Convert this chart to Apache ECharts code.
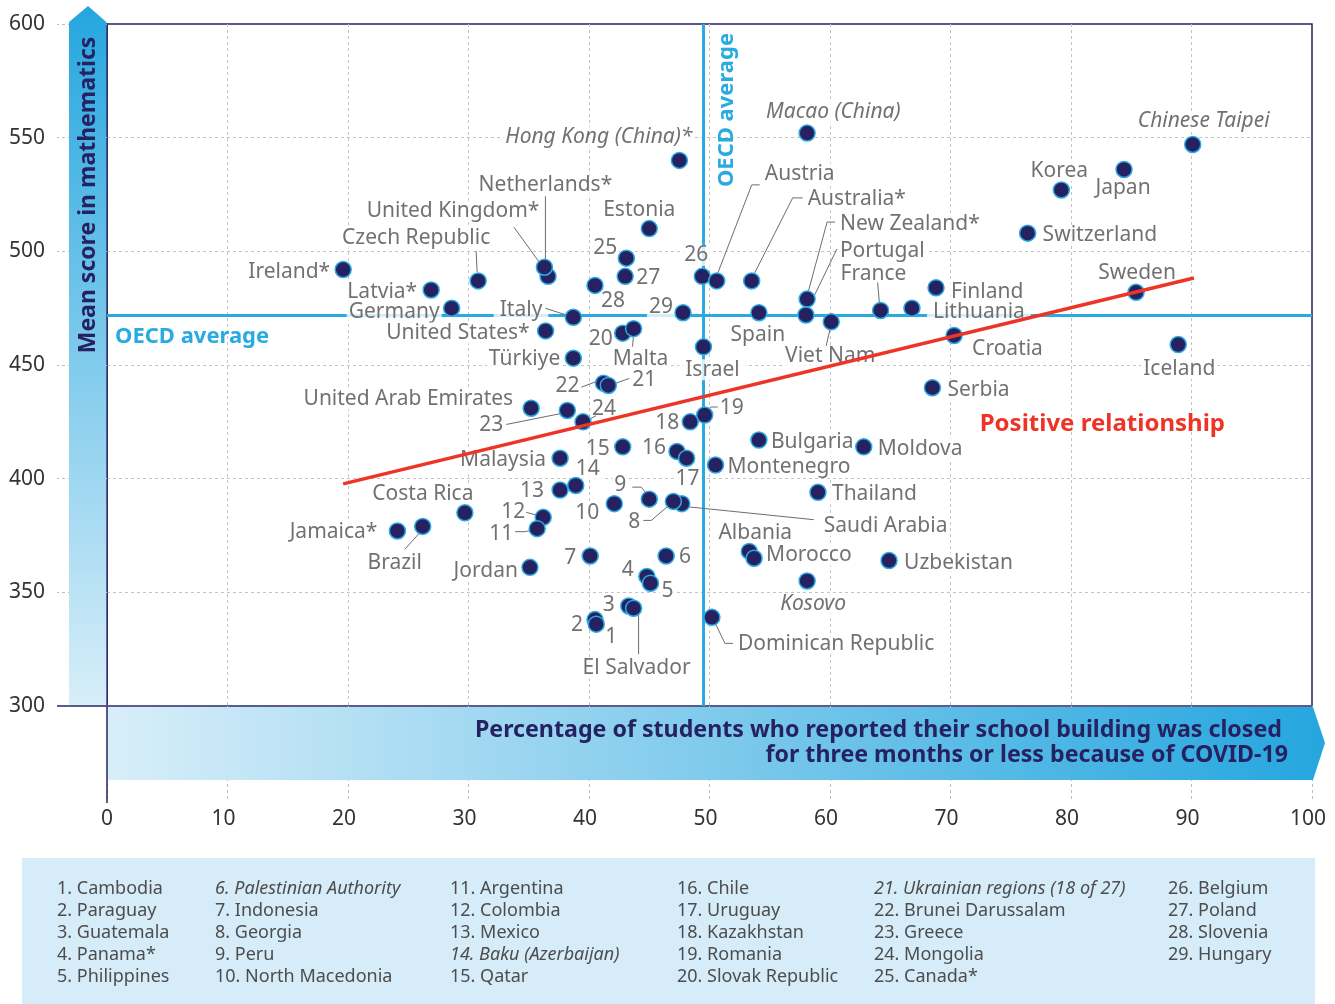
<!DOCTYPE html>
<html>
<head>
<meta charset="utf-8">
<script src="https://cdn.jsdelivr.net/npm/echarts/dist/echarts.min.js"></script>
<style>html,body{margin:0;padding:0;background:#fff}#c{width:1335px;height:1004px}</style>
</head>
<body>
<div id="c"></div>
<script>
// ---------------- DATA ----------------
const countries = ["Ireland*","Latvia*","Germany","Czech Republic","United Kingdom*","Netherlands*","Italy","United States*","Türkiye","Slovak Republic","Malta","Canada*","Poland","Estonia","Slovenia","Hungary","Hong Kong (China)*","Belgium","Austria","Australia*","Spain","New Zealand*","Portugal","Viet Nam","France","Macao (China)","Lithuania","Finland","Croatia","Switzerland","Korea","Japan","Chinese Taipei","Sweden","Iceland","Israel","Serbia","Moldova","Bulgaria","Montenegro","Thailand","Albania","Morocco","Kosovo","Uzbekistan","Dominican Republic","Saudi Arabia","Georgia","Peru","North Macedonia","Mexico","Baku (Azerbaijan)","Costa Rica","Colombia","Argentina","Jamaica*","Brazil","Jordan","Indonesia","Palestinian Authority","Panama*","Philippines","Guatemala","El Salvador","Paraguay","Cambodia","Qatar","Chile","Uruguay","Kazakhstan","Romania","Malaysia","United Arab Emirates","Greece","Mongolia","Brunei Darussalam","Ukrainian regions (18 of 27)"];
const closedPct = [19.6,26.9,28.6,30.8,36.6,36.3,38.7,36.4,38.7,42.8,43.7,43.1,43.0,45.0,40.5,47.8,47.5,49.4,50.6,53.5,54.1,58.1,58.0,60.1,64.2,58.1,66.8,68.8,70.3,76.4,79.2,84.4,90.1,85.4,88.9,49.5,68.5,62.8,54.1,50.5,59.0,53.3,53.7,58.1,64.9,50.2,47.7,47.0,45.0,42.1,37.6,38.9,29.7,36.2,35.7,24.1,26.2,35.1,40.1,46.4,44.8,45.1,43.3,43.7,40.5,40.6,42.8,47.3,48.1,48.4,49.6,37.6,35.2,38.2,39.5,41.2,41.6];
const mathScore = [492,483,475,487,489,493,471,465,453,464,466,497,489,510,485,473,540,489,487,487,473,479,472,469,474,552,475,484,463,508,527,536,547,482,459,458,440,414,417,406,394,368,365,355,364,339,389,390,391,389,395,397,385,383,378,377,379,361,366,366,357,354,344,343,338,336,414,412,409,425,428,409,431,430,425,442,441];
const footnotes = ["Cambodia","Paraguay","Guatemala","Panama*","Philippines","Palestinian Authority","Indonesia","Georgia","Peru","North Macedonia","Argentina","Colombia","Mexico","Baku (Azerbaijan)","Qatar","Chile","Uruguay","Kazakhstan","Romania","Slovak Republic","Ukrainian regions (18 of 27)","Brunei Darussalam","Greece","Mongolia","Canada*","Belgium","Poland","Slovenia","Hungary"];
const italicNames = ["Hong Kong (China)*","Macao (China)","Chinese Taipei","Kosovo","Palestinian Authority","Baku (Azerbaijan)","Ukrainian regions (18 of 27)"];
const oecdX = 49.5;
const oecdY = 472;
const trendX = [19.6, 90.2];
const trendY = [397.7, 488.3];
const xMin = 0, xMax = 100, xStep = 10;
const yMin = 300, yMax = 600, yStep = 50;
const xTitle = ["Percentage of students who reported their school building was closed", "for three months or less because of COVID-19"];
const yTitle = "Mean score in mathematics";
const oecdLabel = "OECD average";
const trendLabel = "Positive relationship";

// ---------------- LABEL LAYOUT (pixel offsets from the dot) ----------------
const placement = {
'Ireland*':['right',-13,0],'Latvia*':['right',-14,0],'Germany':['right',-12,2],
'Czech Republic':['center',-62,-45],'United Kingdom*':['center',-95,-67],'Netherlands*':['center',1,-84],
'Italy':['right',-31,-9],'United States*':['right',-16,0],'Türkiye':['right',-13,-1],
'Slovak Republic':['right',-10,4],'Malta':['center',7,28],'Canada*':['right',-9,-12],
'Poland':['left',11,0],'Estonia':['center',-10,-21],'Slovenia':['left',6,14],'Hungary':['right',-10,-8],
'Hong Kong (China)*':['right',13,-25],'Belgium':['center',-6,-23],'Austria':['left',48,-109],
'Australia*':['left',56,-84],'Spain':['center',-1,20],'New Zealand*':['left',33,-77],
'Portugal':['left',34,-66],'Viet Nam':['center',-1,32],'France':['left',-40,-38],
'Macao (China)':['left',-41,-23],'Lithuania':['left',21,2],'Finland':['left',15,2],
'Croatia':['left',18,12],'Switzerland':['left',15,0],'Korea':['center',-2,-21],
'Japan':['center',-1,17],'Chinese Taipei':['center',11,-25],'Sweden':['center',1,-21],
'Iceland':['center',1,22],'Israel':['center',9,21],'Serbia':['left',15,0],'Moldova':['left',14,0],
'Bulgaria':['left',12,0],'Montenegro':['left',12,0],'Thailand':['left',14,0],'Albania':['center',6,-20],
'Morocco':['left',12,-5],'Kosovo':['center',6,21],'Uzbekistan':['left',15,1],
'Dominican Republic':['left',26,25],'Saudi Arabia':['left',142,20],'Georgia':['right',-33,19],
'Peru':['right',-23,-16],'North Macedonia':['right',-15,7],'Mexico':['right',-16,-1],
'Baku (Azerbaijan)':['center',12,-18],'Costa Rica':['center',-42,-21],'Colombia':['right',-18,-7],
'Argentina':['right',-24,3],'Jamaica*':['right',-20,-1],'Brazil':['center',-28,35],
'Jordan':['right',-12,2],'Indonesia':['right',-14,0],'Palestinian Authority':['left',13,-1],
'Panama*':['right',-13,-8],'Philippines':['left',11,6],'Guatemala':['right',-14,-3],
'El Salvador':['center',3,58],'Paraguay':['right',-12,3],'Cambodia':['center',15,11],
'Qatar':['right',-13,0],'Chile':['right',-11,-5],'Uruguay':['center',1,19],'Kazakhstan':['right',-11,-1],
'Romania':['left',15,-9],'Malaysia':['right',-14,0],'United Arab Emirates':['right',-18,-11],
'Greece':['right',-64,13],'Mongolia':['left',9,-15],'Brunei Darussalam':['right',-24,1],
'Ukrainian regions (18 of 27)':['left',24,-7]
};
const LABEL_DY = 2;
const widePad = ['Italy','Lithuania','Israel'];
const leaders = {
'Czech Republic':[[-2,-30],[-1,-9]],
'United Kingdom*':[[-34,-49],[0,-2]],
'Netherlands*':[[1,-71],[1,-2]],
'Italy':[[-28,-9],[0,0]],
'Malta':[[-1,18],[0,5]],
'Austria':[[43,-96],[35,-96],[0,-5]],
'Australia*':[[51,-83],[41,-83],[1,-4]],
'New Zealand*':[[28,-77],[20,-77],[0,-3]],
'Portugal':[[31,-66],[0,-2]],
'France':[[-3,-28],[-1,-5]],
'Viet Nam':[[-5,24],[0,2]],
'Brunei Darussalam':[[-22,4],[-1,-4]],
'Ukrainian regions (18 of 27)':[[21,-7],[1,0]],
'Greece':[[-61,14],[-1,2]],
'Mongolia':[[13,-6],[1,0]],
'Romania':[[13,-8],[6,-8],[0,-2]],
'Peru':[[-17,-12],[-8,-12],[0,-2]],
'Georgia':[[-30,19],[-22,19],[-1,1]],
'Saudi Arabia':[[132,16],[5,3]],
'Dominican Republic':[[1,1],[13,26],[21,26]],
'El Salvador':[[5,3],[5,46]],
'Colombia':[[-17,-5],[-2,-1]],
'Argentina':[[-22,3],[-12,3],[0,0]],
'Brazil':[[-18,23],[0,3]]
};

// ---------------- STYLE ----------------
const FONT = '"Noto Sans", "Open Sans", sans-serif';
const NAVY = '#262262';
const CYAN = '#29abe2';
const LABEL_COLOR = '#4d4d4d';
const GRID = {left:107, top:24, width:1205, height:682};

const chart = echarts.init(document.getElementById('c'));

const labelData = countries.map((name, i) => {
  const p = placement[name] || ['left', 12, 0];
  const pad = widePad.includes(name) ? 6 : 2;
  const dx = p[1] + (p[0] === 'left' ? -pad : (p[0] === 'right' ? pad : 0));
  const num = footnotes.indexOf(name);
  const text = num >= 0 ? String(num + 1) : name;
  const italic = num < 0 && italicNames.includes(name);
  return {
    value: [closedPct[i], mathScore[i]],
    label: {
      formatter: text, align: p[0], verticalAlign: 'middle', offset: [dx, p[2] + LABEL_DY],
      padding: [0, pad], fontStyle: italic ? 'italic' : 'normal'
    }
  };
});
const dotData = countries.map((name, i) => [closedPct[i], mathScore[i]]);
const leaderNames = Object.keys(leaders);
const leaderData = leaderNames.map(n => { const i = countries.indexOf(n); return [closedPct[i], mathScore[i]]; });

chart.setOption({
  animation: false,
  backgroundColor: '#fff',
  textStyle: {fontFamily: FONT},
  grid: Object.assign({show: true, borderColor: NAVY, borderWidth: 1.5, backgroundColor: 'transparent', containLabel: false, outerBoundsMode: 'none'}, GRID),
  xAxis: {
    type: 'value', min: xMin, max: xMax, interval: xStep,
    axisLine: {show: true, onZero: false, lineStyle: {color: '#5b5b8c', width: 2}},
    axisTick: {show: true, length: 94, lineStyle: {color: '#bdbdbd', type: [3, 3], width: 1}},
    axisLabel: {
      margin: 103, fontSize: 21, color: '#333', fontFamily: FONT, padding: [0, 8, 0, 0],
      formatter: v => (v === xMin ? '{first|' + v + '}' : String(v)),
      rich: {first: {fontSize: 21, color: '#333', fontFamily: FONT, padding: [0, 0, 0, 8]}}
    },
    splitLine: {show: true, showMinLine: false, showMaxLine: false, lineStyle: {color: '#c4c4c4', type: [3, 3], width: 1}}
  },
  yAxis: {
    type: 'value', min: yMin, max: yMax, interval: yStep,
    axisLine: {show: true, onZero: false, lineStyle: {color: NAVY, width: 1.5}},
    axisTick: {show: true, length: 50, lineStyle: {color: '#bdbdbd', type: [3, 3], width: 1}},
    axisLabel: {margin: 62, fontSize: 21, color: '#333', fontFamily: FONT, padding: [7, 0, 0, 0]},
    splitLine: {show: true, showMinLine: false, showMaxLine: false, lineStyle: {color: '#c4c4c4', type: [3, 3], width: 1}}
  },
  series: [
    {
      type: 'line', data: [], z: 1, silent: true,
      markLine: {
        silent: true, symbol: 'none', animation: false, z: 1,
        label: {show: false}, emphasis: {disabled: true},
        lineStyle: {color: CYAN, width: 3, type: 'solid'},
        data: [{xAxis: oecdX}, {yAxis: oecdY}]
      }
    },
    {
      type: 'scatter', name: 'labels', data: labelData, z: 2, silent: true,
      symbol: 'circle', symbolSize: 16,
      itemStyle: {color: 'rgba(0,0,0,0)', borderWidth: 0},
      label: {show: true, position: 'inside', color: LABEL_COLOR, fontSize: 21, fontFamily: FONT, backgroundColor: '#fff'},
      emphasis: {disabled: true}
    },
    {
      type: 'custom', z: 3, silent: true, data: leaderData,
      renderItem: function (params, api) {
        const c = api.coord([api.value(0), api.value(1)]);
        const pts = leaders[leaderNames[params.dataIndex]].map(o => [c[0] + o[0], c[1] + o[1]]);
        return {type: 'polyline', shape: {points: pts}, style: {stroke: '#6d6d6d', lineWidth: 1, fill: null}};
      }
    },
    {
      type: 'scatter', name: 'countries', data: dotData, z: 4, silent: true,
      symbol: 'circle', symbolSize: 16,
      itemStyle: {color: NAVY, borderColor: CYAN, borderWidth: 1.5, opacity: 1},
      emphasis: {disabled: true}
    },
    {
      type: 'line', z: 5, silent: true, symbol: 'none',
      data: trendX.map((x, i) => [x, trendY[i]]),
      lineStyle: {color: '#ee3427', width: 3.5}
    }
  ]
});

// ---------------- DECORATION ----------------
const L = GRID.left, T = GRID.top, R = GRID.left + GRID.width, B = GRID.top + GRID.height;
const oecdPx = chart.convertToPixel({gridIndex: 0}, [oecdX, oecdY]);
const trendAnchor = chart.convertToPixel({gridIndex: 0}, [82.6, 424.5]);
const graphics = [];
// legend box
graphics.push({type: 'rect', z: 10, shape: {x: 22, y: 858, width: 1293, height: 146}, style: {fill: '#d6ecf8'}});
const colX = [57, 215, 450, 677, 874, 1168];
footnotes.forEach((n, i) => {
  graphics.push({
    type: 'text', z: 11, x: colX[Math.floor(i / 5)], y: 888.5 + 22 * (i % 5),
    style: {text: (i + 1) + '. ' + n, fontSize: 18, fontFamily: FONT, fontStyle: italicNames.includes(n) ? 'italic' : 'normal',
            fill: LABEL_COLOR, align: 'left', verticalAlign: 'middle'}
  });
});
// y band (arrow up)
graphics.push({
  type: 'polygon', z: 10,
  shape: {points: [[69, B], [69, 22], [88, 6], [106.3, 22], [106.3, B]]},
  style: {fill: new echarts.graphic.LinearGradient(0, 0, 0, 1, [{offset: 0, color: '#25a6df'}, {offset: 1, color: '#d8eef9'}])}
});
// x band (arrow right)
graphics.push({
  type: 'polygon', z: 10,
  shape: {points: [[L, B + 1], [R + 1, B + 1], [R + 13, 743], [R + 1, 780], [L, 780]]},
  style: {fill: new echarts.graphic.LinearGradient(0, 0, 1, 0, [{offset: 0, color: '#d8eef9'}, {offset: 1, color: '#25a6df'}])}
});
graphics.push({type: 'line', z: 12, shape: {x1: 57, y1: B, x2: L, y2: B}, style: {stroke: '#5b5b8c', lineWidth: 2}});
graphics.push({type: 'line', z: 12, shape: {x1: L, y1: B, x2: L, y2: 803}, style: {stroke: NAVY, lineWidth: 1.5}});
graphics.push({
  type: 'text', z: 12, x: 88, y: 195, rotation: Math.PI / 2,
  style: {text: yTitle, fontSize: 23, fontWeight: 'bold', fontFamily: FONT, fill: NAVY, align: 'center', verticalAlign: 'middle'}
});
const xTitleRight = [1282, 1288];
xTitle.forEach((t, i) => {
  graphics.push({
    type: 'text', z: 12, x: xTitleRight[i], y: 730.5 + 25 * i,
    style: {text: t, fontSize: 23.2, fontWeight: 'bold', fontFamily: FONT, fill: NAVY, align: 'right', verticalAlign: 'middle'}
  });
});
// OECD labels
graphics.push({
  type: 'text', z: 12, x: L + 8, y: oecdPx[1] + 22,
  style: {text: oecdLabel, fontSize: 22, fontWeight: 'bold', fontFamily: FONT, fill: CYAN, align: 'left', verticalAlign: 'middle'}
});
graphics.push({
  type: 'text', z: 12, x: oecdPx[0] + 23, y: T + 86, rotation: Math.PI / 2,
  style: {text: oecdLabel, fontSize: 22, fontWeight: 'bold', fontFamily: FONT, fill: CYAN, align: 'center', verticalAlign: 'middle'}
});
graphics.push({
  type: 'text', z: 12, x: trendAnchor[0], y: trendAnchor[1] + 1.5,
  style: {text: trendLabel, fontSize: 24, fontWeight: 'bold', fontFamily: FONT, fill: '#ee3427', align: 'center', verticalAlign: 'middle'}
});
chart.setOption({graphic: {elements: graphics}});
</script>
</body>
</html>
